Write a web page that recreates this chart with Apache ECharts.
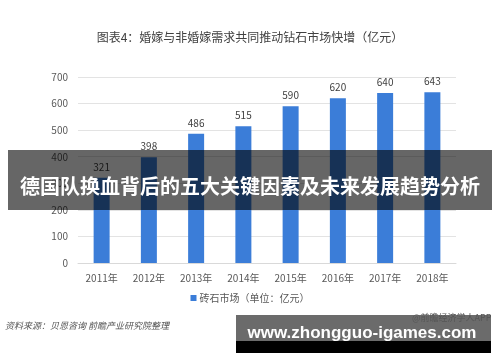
<!DOCTYPE html>
<html><head><meta charset="utf-8">
<script src="https://cdn.jsdelivr.net/npm/echarts@6/dist/echarts.min.js"></script>
<style>html,body{margin:0;padding:0;background:#fff}#c{width:500px;height:362px}</style>
</head><body><div id="c"></div>
<script>
const categories = ['2011年','2012年','2013年','2014年','2015年','2016年','2017年','2018年'];
const values = [321, 398, 486, 515, 590, 620, 640, 643];
const yTicks = [0,100,200,300,400,500,600,700];
const seriesName = '砖石市场（单位：亿元）';
const titleText = '图表4：婚嫁与非婚嫁需求共同推动钻石市场快增（亿元）';
const bannerText = '德国队换血背后的五大关键因素及未来发展趋势分析';
const sourceText = '资料来源：贝恩咨询 前瞻产业研究院整理';
const footerText = 'www.zhongguo-igames.com';
const appText = '@前瞻经济学人APP';

const FONT = '"Noto Sans CJK SC", "Noto Sans", sans-serif';
const chart = echarts.init(document.getElementById('c'), null, {renderer:'canvas'});
chart.setOption({
  animation: false,
  textStyle: {fontFamily: FONT},
  title: {text: titleText, left: 'center', top: 26, textStyle: {fontSize: 12, fontWeight: 'normal', color: '#404040', fontFamily: FONT}},
  grid: {left: 78, right: 44, top: 77, height: 186, containLabel: false},
  legend: {data: [seriesName], bottom: 54, left: 'center', icon: 'rect', itemWidth: 6, itemHeight: 6, itemGap: 4,
    textStyle: {fontSize: 10, color: '#595959', fontFamily: FONT, padding: [0,0,0,-2]}},
  xAxis: {type: 'category', data: categories,
    axisLine: {lineStyle: {color: '#d9d9d9'}}, axisTick: {show: false},
    axisLabel: {fontSize: 10, color: '#595959', margin: 10, fontFamily: FONT}},
  yAxis: {type: 'value', min: yTicks[0], max: yTicks[yTicks.length-1], interval: 100,
    splitLine: {lineStyle: {color: '#e3e3e3'}}, axisLine: {show: false}, axisTick: {show: false},
    axisLabel: {fontSize: 10, color: '#595959', margin: 10, fontFamily: FONT}},
  series: [{name: seriesName, type: 'bar', data: values, barWidth: 16,
    itemStyle: {color: '#3b7dd8'},
    label: {show: true, position: 'top', fontSize: 10, color: '#404040', distance: 6, fontFamily: FONT}}],
  graphic: [
    {type: 'text', left: 5, top: 321, style: {text: sourceText, fontSize: 9, fontStyle: 'italic', fill: '#555', fontFamily: FONT}},
    {type: 'rect', z: 100, shape: {x: 8, y: 150, width: 484, height: 60}, style: {fill: 'rgba(0,0,0,0.6)'}},
    {type: 'text', z: 101, x: 250, y: 186, style: {text: bannerText, fontSize: 20, fontWeight: 'bold', fill: '#fff', align: 'center', verticalAlign: 'middle', fontFamily: FONT}},
    {type: 'rect', z: 100, shape: {x: 236, y: 315, width: 255, height: 26}, style: {fill: 'rgba(0,0,0,0.58)'}},
    {type: 'rect', z: 100, shape: {x: 236, y: 341, width: 255, height: 12}, style: {fill: '#000'}},
    {type: 'text', z: 102, x: 412, y: 313, style: {text: appText, fontSize: 9, fill: '#555', fontFamily: FONT}},
    {type: 'text', z: 101, x: 362, y: 333, style: {text: footerText, fontSize: 17, fontWeight: 'bold', fill: '#fff', align: 'center', verticalAlign: 'middle', fontFamily: '"Liberation Sans", Arial, sans-serif'}}
  ]
});
</script></body></html>
